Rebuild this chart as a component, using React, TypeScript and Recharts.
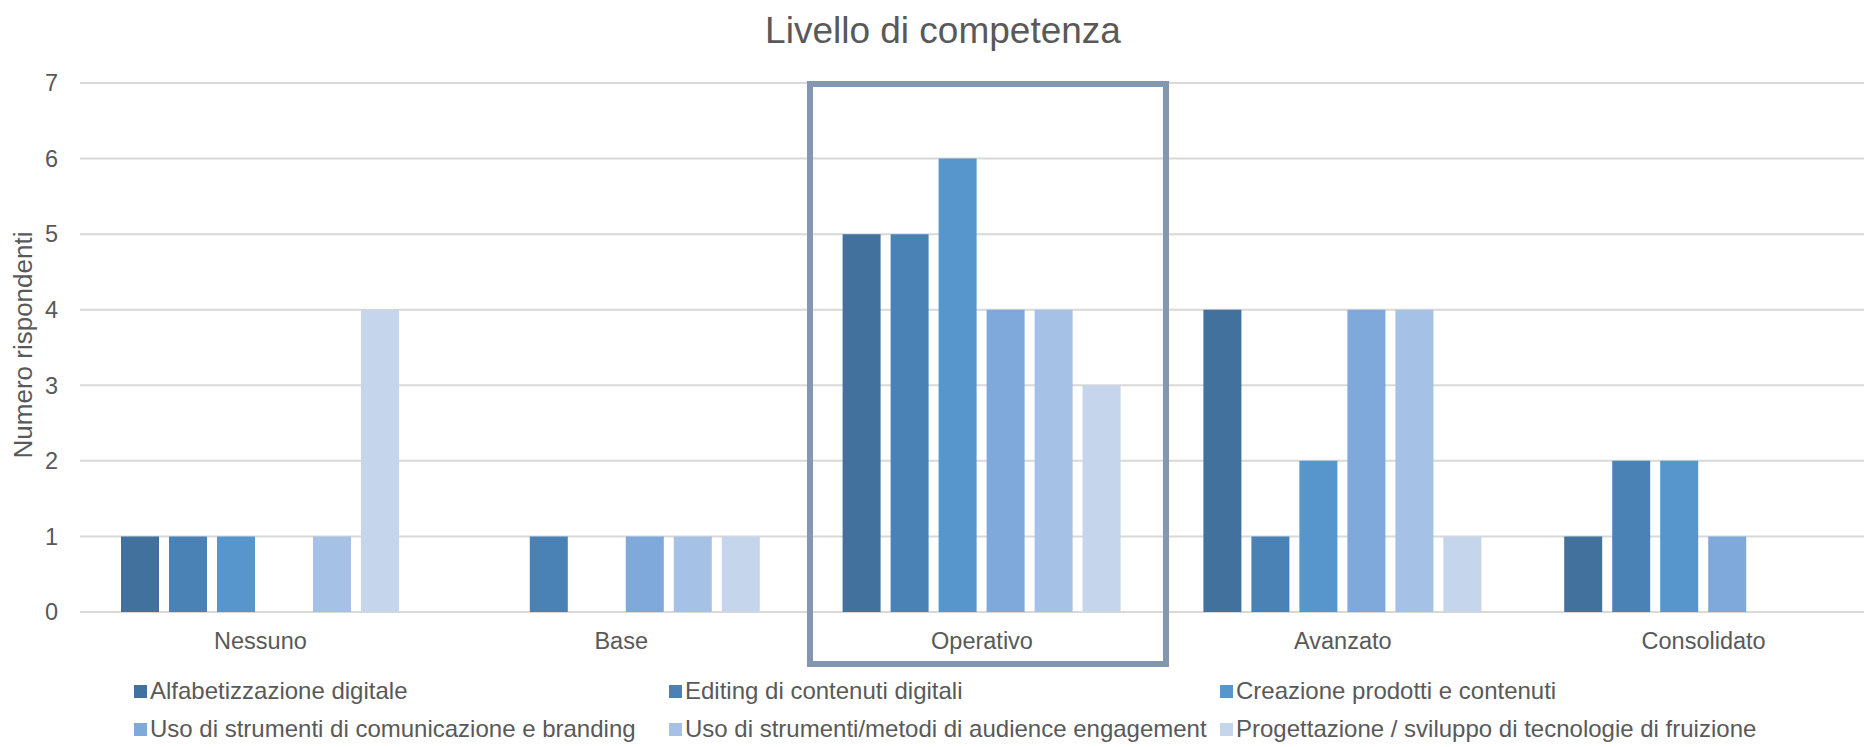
import { Bar, BarChart, CartesianGrid, Legend, XAxis, YAxis } from 'recharts';

// livelli di competenza (categorie)
const levels = ['Nessuno', 'Base', 'Operativo', 'Avanzato', 'Consolidato'];

// valori per ogni serie, nell'ordine dei livelli
const alfabetizzazione = [1, 0, 5, 4, 1];
const editing = [1, 1, 5, 1, 2];
const creazione = [1, 0, 6, 2, 2];
const comunicazione = [0, 1, 4, 4, 1];
const audience = [1, 1, 4, 4, 0];
const progettazione = [4, 1, 3, 1, 0];

const yTicks = [0, 1, 2, 3, 4, 5, 6, 7];

const series = [
  { key: 'alfabetizzazione', name: 'Alfabetizzazione digitale', values: alfabetizzazione, color: '#41719C' },
  { key: 'editing', name: 'Editing di contenuti digitali', values: editing, color: '#4A82B5' },
  { key: 'creazione', name: 'Creazione prodotti e contenuti', values: creazione, color: '#5795CD' },
  { key: 'comunicazione', name: 'Uso di strumenti di comunicazione e branding', values: comunicazione, color: '#7EA9DA' },
  { key: 'audience', name: 'Uso di strumenti/metodi di audience engagement', values: audience, color: '#A5C1E5' },
  { key: 'progettazione', name: 'Progettazione / sviluppo di tecnologie di fruizione', values: progettazione, color: '#C5D5EC' },
];

const data = levels.map((level, i) => {
  const row: Record<string, string | number> = { level };
  series.forEach((s) => {
    row[s.key] = s.values[i];
  });
  return row;
});

const FONT = '"Liberation Sans", Arial, sans-serif';
const TEXT = '#595959';

// legenda su 3 colonne, nell'ordine delle serie
function LegendGrid() {
  return (
    <div
      style={{
        display: 'grid',
        gridTemplateColumns: '535px 551px 544px',
        paddingLeft: 134,
        paddingTop: 5,
        fontFamily: FONT,
        fontSize: 24,
        color: TEXT,
        lineHeight: '38px',
      }}
    >
      {series.map((s) => (
        <div key={s.key} style={{ display: 'flex', alignItems: 'center', whiteSpace: 'nowrap' }}>
          <span style={{ width: 13, height: 13, background: s.color, marginRight: 3, flex: 'none' }} />
          <span>{s.name}</span>
        </div>
      ))}
    </div>
  );
}

export default function App() {
  return (
    <div
      style={{
        position: 'fixed',
        top: 0,
        left: 0,
        width: 1864,
        height: 747,
        overflow: 'hidden',
        background: '#fff',
      }}
    >
      <div
        style={{
          position: 'absolute',
          top: 11,
          left: 0,
          width: 1886,
          textAlign: 'center',
          fontFamily: FONT,
          fontSize: 37,
          lineHeight: '40px',
          color: TEXT,
        }}
      >
        Livello di competenza
      </div>

      {/* titolo asse Y */}
      <div
        style={{
          position: 'absolute',
          left: 23,
          top: 345,
          transform: 'translate(-50%, -50%) rotate(-90deg)',
          fontFamily: FONT,
          fontSize: 26,
          lineHeight: '30px',
          color: TEXT,
          whiteSpace: 'nowrap',
        }}
      >
        Numero rispondenti
      </div>

      <BarChart
        width={1884}
        height={747}
        data={data}
        margin={{ top: 83, right: 0, left: 0, bottom: 0 }}
        barSize={38}
        barGap={10}
      >
        <CartesianGrid vertical={false} stroke="#D9D9D9" strokeWidth={2} />
        <XAxis
          dataKey="level"
          height={55}
          axisLine={false}
          tickLine={false}
          tickSize={0}
          tickMargin={20}
          tick={{ fill: TEXT, fontSize: 23.5, fontFamily: FONT }}
        />
        <YAxis
          width={80}
          domain={[0, 7]}
          ticks={yTicks}
          axisLine={false}
          tickLine={false}
          tickSize={0}
          tickMargin={22}
          tick={{ fill: TEXT, fontSize: 23.5, fontFamily: FONT }}
        />
        <Legend
          verticalAlign="bottom"
          content={<LegendGrid />}
          wrapperStyle={{ left: 0, width: 1864, height: 80 }}
        />
        {series.map((s) => (
          <Bar key={s.key} dataKey={s.key} name={s.name} fill={s.color} isAnimationActive={false} />
        ))}
      </BarChart>

      {/* riquadro di evidenza attorno a "Operativo" */}
      <div
        style={{
          position: 'absolute',
          left: 807,
          top: 81,
          width: 362,
          height: 586,
          boxSizing: 'border-box',
          border: '6px solid #8497B0',
          pointerEvents: 'none',
        }}
      />
    </div>
  );
}
